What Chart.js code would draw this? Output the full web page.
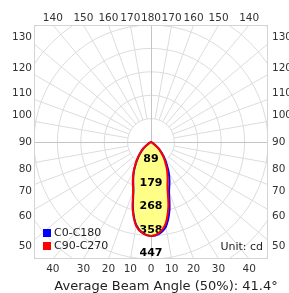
<!DOCTYPE html>
<html>
<head>
<meta charset="utf-8">
<script src="https://cdn.jsdelivr.net/npm/chart.js@4.4.1/dist/chart.umd.min.js"></script>
<style>
  html, body { margin: 0; padding: 0; background: #fff; }
  #wrap { width: 289px; height: 293px; }
</style>
</head>
<body>
<div id="wrap"><canvas id="polarChart"></canvas></div>
<script>
// gamma angles (deg from nadir) and intensities in cd for each C-plane
var gammaAngles = [0, 5, 10, 15, 20, 25, 30, 35, 40, 45, 50, 55, 60, 65, 70, 75, 80, 85, 90];
var c0Values   = [359, 352, 328, 272, 202, 167, 136, 105, 80, 56, 37, 16, 6, 3, 2, 1, 1, 0, 0];
var c180Values = [359, 350, 323, 266, 196, 161, 131, 101, 76, 54, 37, 16, 6, 3, 2, 1, 1, 0, 0];
var c90Values  = [359, 349, 318, 256, 184, 150, 122, 95, 73, 52, 35, 16, 6, 3, 2, 1, 1, 0, 0];
var c270Values = [359, 351, 326, 270, 200, 165, 134, 104, 79, 58, 41, 19, 7, 3, 2, 1, 1, 0, 0];

var ringLabels = ['89', '179', '268', '358', '447'];
var ringMax = 447;
var topLabels = [140, 150, 160, 170, 180, 170, 160, 150, 140];
var bottomLabels = [40, 30, 20, 10, 0, 10, 20, 30, 40];
var sideLabels = [130, 120, 110, 100, 90, 80, 70, 60, 50];
var seriesNames = ['C0-C180', 'C90-C270'];
var seriesColors = ['#0000ff', '#ff0000'];
var beamTitle = 'Average Beam Angle (50%): 41.4°';
var unitText = 'Unit: cd';

var FONT = 'DejaVu Sans';
var ringStep = ringMax / ringLabels.length;

function toRad(d) { return d * Math.PI / 180; }

// left half (C180 / C270) from horizontal down to nadir, then right half back up
function buildLoop(leftVals, rightVals) {
    var pts = [];
    for (var i = gammaAngles.length - 1; i >= 0; i--) {
        var a = toRad(gammaAngles[i]);
        pts.push({ x: -leftVals[i] * Math.sin(a), y: -leftVals[i] * Math.cos(a) });
    }
    for (var j = 1; j < gammaAngles.length; j++) {
        var b = toRad(gammaAngles[j]);
        pts.push({ x: rightVals[j] * Math.sin(b), y: -rightVals[j] * Math.cos(b) });
    }
    return pts;
}

// tick values where each angle label sits on the frame edge
function edgeTicks(labels, offsetOf, signFirst, shift) {
    var half = (labels.length - 1) / 2;
    return labels.map(function (lab, i) {
        var off = offsetOf(lab);
        var sign = i < half ? signFirst : -signFirst;
        return sign * (ringMax * Math.tan(toRad(off)) + (off ? shift : 0));
    });
}

var topTicks = edgeTicks(topLabels, function (l) { return 180 - l; }, -1, 0);
var bottomTicks = edgeTicks(bottomLabels, function (l) { return l; }, -1, 0);
var sideTicks = edgeTicks(sideLabels, function (l) { return Math.abs(l - 90); }, 1, 25);

function axis(position, ticks, labels, size, pad) {
    return {
        type: 'linear',
        position: position,
        min: -ringMax,
        max: ringMax,
        grid: { display: false, drawTicks: false },
        border: { display: false },
        ticks: {
            autoSkip: false,
            maxRotation: 0,
            minRotation: 0,
            padding: pad,
            color: '#333',
            font: { family: FONT, size: 10.5 },
            callback: function (val, i) { return labels[i]; }
        },
        afterBuildTicks: function (scale) {
            scale.ticks = ticks.map(function (v) { return { value: v }; });
        },
        afterFit: function (scale) {
            if (position === 'top' || position === 'bottom') {
                scale.height = size;
            } else {
                scale.width = size;
            }
        }
    };
}

var polarGrid = {
    id: 'polarGrid',
    beforeDraw: function (chart) {
        var ctx = chart.ctx, area = chart.chartArea;
        var xs = chart.scales.x, ys = chart.scales.y;
        var cx = xs.getPixelForValue(0), cy = ys.getPixelForValue(0);
        var unit = xs.getPixelForValue(ringStep) - cx;

        ctx.save();
        ctx.beginPath();
        ctx.rect(area.left, area.top, area.right - area.left, area.bottom - area.top);
        ctx.clip();
        ctx.lineWidth = 1;
        ctx.strokeStyle = '#dcdcdc';
        for (var k = 1; k <= 7; k++) {
            ctx.beginPath();
            ctx.arc(cx, cy, unit * k, 0, Math.PI * 2);
            ctx.stroke();
        }
        for (var a = 0; a < 360; a += 10) {
            if (a % 90 === 0) continue;
            var r = toRad(a);
            ctx.beginPath();
            ctx.moveTo(cx + unit * Math.cos(r), cy + unit * Math.sin(r));
            ctx.lineTo(cx + unit * 8 * Math.cos(r), cy + unit * 8 * Math.sin(r));
            ctx.stroke();
        }
        ctx.strokeStyle = '#c4c4c4';
        ctx.beginPath();
        ctx.moveTo(area.left, Math.round(cy) + 0.5);
        ctx.lineTo(area.right, Math.round(cy) + 0.5);
        ctx.moveTo(Math.round(cx) + 0.5, area.top);
        ctx.lineTo(Math.round(cx) + 0.5, area.bottom);
        ctx.stroke();
        ctx.restore();

        ctx.save();
        ctx.strokeStyle = '#d4d4d4';
        ctx.lineWidth = 1;
        ctx.strokeRect(area.left + 0.5, area.top + 0.5, area.right - area.left - 1, area.bottom - area.top - 1);
        ctx.restore();
    },
    beforeDatasetsDraw: function (chart) {
        var ctx = chart.ctx;
        var xs = chart.scales.x, ys = chart.scales.y;
        var cx = xs.getPixelForValue(0);
        ctx.save();
        ctx.fillStyle = '#000';
        ctx.font = 'bold 11px "' + FONT + '"';
        ctx.textAlign = 'center';
        ctx.textBaseline = 'alphabetic';
        ringLabels.forEach(function (lab, i) {
            var y = ys.getPixelForValue(-ringStep * (i + 1));
            ctx.fillText(lab, cx, y - 3);
        });
        ctx.restore();
    },
    afterDraw: function (chart) {
        var ctx = chart.ctx, area = chart.chartArea;
        ctx.save();
        ctx.font = '11px "' + FONT + '"';
        ctx.textBaseline = 'middle';
        seriesNames.forEach(function (name, i) {
            var y = area.bottom - 26 + i * 13;
            ctx.fillStyle = seriesColors[i];
            ctx.fillRect(area.left + 9, y - 4, 8, 8);
            ctx.fillStyle = '#222';
            ctx.textAlign = 'left';
            ctx.fillText(name, area.left + 20, y);
        });
        ctx.textAlign = 'right';
        ctx.fillText(unitText, area.right - 5, area.bottom - 12);
        ctx.font = '13px "' + FONT + '"';
        ctx.textAlign = 'center';
        ctx.fillText(beamTitle, (area.left + area.right) / 2 + 15, chart.height - 6);
        ctx.restore();
    }
};

var chart = new Chart(document.getElementById('polarChart'), {
    type: 'scatter',
    data: {
        datasets: [
            {
                label: seriesNames[0],
                data: buildLoop(c180Values, c0Values),
                borderColor: seriesColors[0],
                backgroundColor: '#ffff88',
                borderWidth: 2,
                showLine: true,
                fill: 'shape',
                pointRadius: 0,
                tension: 0.3,
                order: 1
            },
            {
                label: seriesNames[1],
                data: buildLoop(c270Values, c90Values),
                borderColor: seriesColors[1],
                backgroundColor: '#ffff88',
                borderWidth: 2,
                showLine: true,
                fill: 'shape',
                pointRadius: 0,
                tension: 0.3,
                order: 0
            }
        ]
    },
    options: {
        responsive: true,
        maintainAspectRatio: false,
        animation: false,
        devicePixelRatio: 1,
        layout: { padding: 0 },
        plugins: {
            legend: { display: false },
            tooltip: { enabled: false },
            filler: { drawTime: 'beforeDatasetsDraw' }
        },
        scales: {
            x: axis('bottom', bottomTicks, bottomLabels, 34, 4),
            xTop: axis('top', topTicks, topLabels, 25, 0),
            y: axis('left', sideTicks, sideLabels, 34, 2),
            yRight: axis('right', sideTicks, sideLabels, 21, 4)
        }
    },
    plugins: [polarGrid]
});
</script>
</body>
</html>
